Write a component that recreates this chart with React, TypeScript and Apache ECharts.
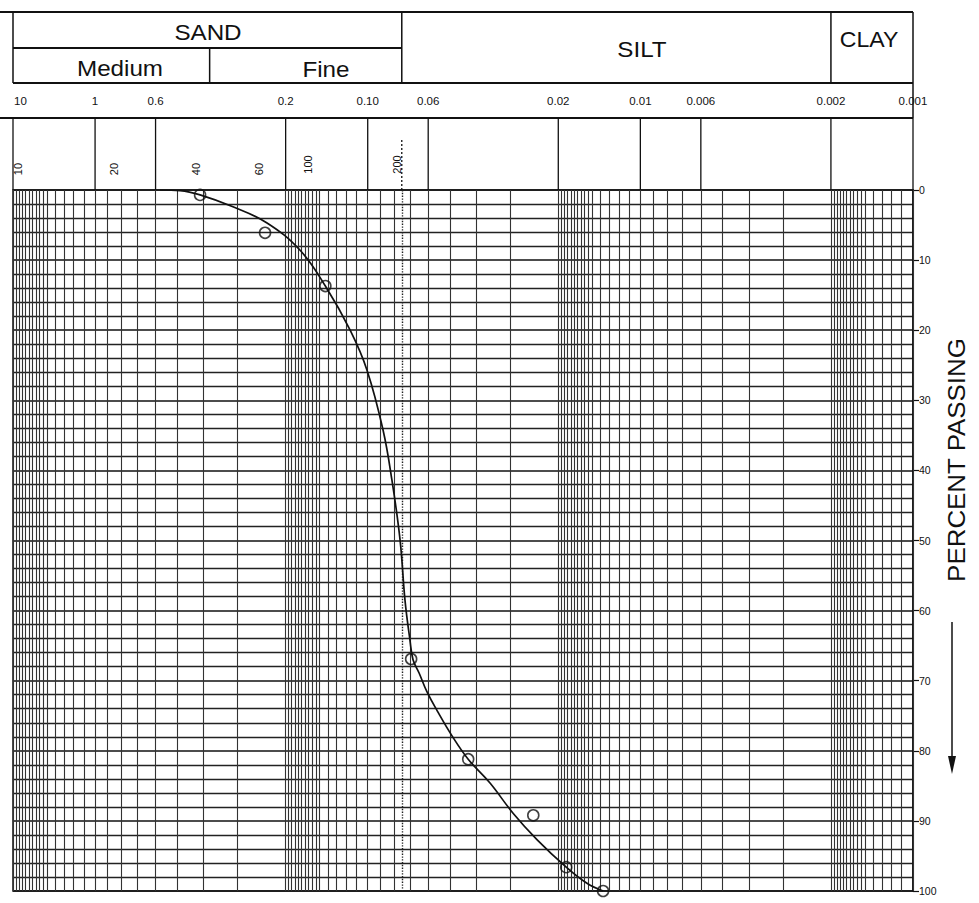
import React, { useEffect, useRef } from "react";
import * as echarts from "echarts";

// Measured points: grain diameter (mm) and percent
const SAMPLE_DIAMETER = [0.412, 0.238, 0.143, 0.0693, 0.0428, 0.0247, 0.0187, 0.0137];
const SAMPLE_PERCENT = [0.7, 6.1, 13.7, 66.9, 81.2, 89.2, 96.6, 100];

// Hand-drawn gradation curve
const CURVE_DIAMETER = [0.578, 0.488, 0.412, 0.312, 0.234, 0.177, 0.143, 0.116, 0.1006, 0.0879, 0.0815, 0.0761, 0.073, 0.07, 0.0682, 0.0648, 0.0606, 0.0556, 0.0492, 0.0428, 0.0356, 0.0293, 0.0239, 0.0187, 0.0157, 0.0137];
const CURVE_PERCENT = [0, 0.1, 0.7, 2.4, 4.7, 8.6, 13.7, 20.0, 25.7, 34.2, 41.4, 49.9, 58.5, 64.2, 67.0, 68.9, 71.6, 74.3, 77.8, 81.2, 84.6, 88.9, 92.7, 96.6, 98.9, 100];

// Grain-size scale labels (text, and where they sit on the diameter axis)
const DIAMETER_LABELS = ["10", "1", "0.6", "0.2", "0.10", "0.06", "0.02", "0.01", "0.006", "0.002", "0.001"];
const DIAMETER_AT = [2, 1, 0.6, 0.2, 0.1, 0.06, 0.02, 0.01, 0.006, 0.002, 0.001];

// Sieve numbers
const SIEVE_LABELS = ["10", "20", "40", "60", "100", "200"];
const SIEVE_AT = [2.0, 0.85, 0.425, 0.25, 0.165, 0.075];
const SIEVE_200 = 0.075;

// Soil class boundaries on the diameter axis
const CLASS_BOUNDS = [2, 0.38, 0.075, 0.002, 0.001];

// Log-paper ruling inside one cycle (multiples of the cycle unit)
const CYCLE_UNITS = [1, 0.1, 0.01, 0.001];
const CYCLE_RULING = [2, 1.95, 1.9, 1.85, 1.8, 1.75, 1.7, 1.65, 1.6, 1.55, 1.5, 1.4, 1.3, 1.2, 1.1, 1.0, 0.9, 0.8, 0.7, 0.6, 0.5, 0.4, 0.3];

const FONT = '"Liberation Sans", Arial, Helvetica, sans-serif';

export default function App() {
  const ref = useRef<HTMLDivElement>(null);

  useEffect(() => {
    document.body.style.margin = "0";
    const chart = echarts.init(ref.current!, null, { renderer: "svg" });

    const ruling: number[] = [];
    CYCLE_UNITS.forEach((u) => {
      CYCLE_RULING.forEach((m) => {
        const v = +(m * u).toPrecision(6);
        if (v >= 0.001 && v <= 2) ruling.push(v);
      });
    });

    const option: any = {
      animation: false,
      backgroundColor: "#fff",
      grid: {
        left: 13,
        right: 66,
        top: 190,
        bottom: 12,
        show: true,
        borderColor: "#111",
        borderWidth: 1.5,
        backgroundColor: "transparent",
      },
      xAxis: {
        type: "log",
        logBase: 10,
        min: 0.001,
        max: 2,
        inverse: true,
        axisLabel: { show: false },
        axisTick: { show: false },
        axisLine: { show: false },
        splitLine: { show: false },
      },
      yAxis: {
        type: "value",
        position: "right",
        inverse: true,
        min: 0,
        max: 100,
        interval: 10,
        axisLine: { show: true, lineStyle: { color: "#111", width: 1.5 } },
        axisTick: { show: true, length: 6, lineStyle: { color: "#111", width: 1.2 } },
        axisLabel: { show: true, color: "#111", fontSize: 10.5, margin: 6, fontFamily: FONT },
        splitLine: { show: true, lineStyle: { color: "#111", width: 1.7 } },
        minorTick: { show: false, splitNumber: 5 },
        minorSplitLine: { show: true, lineStyle: { color: "#222", width: 1.3 } },
      },
      series: [
        {
          type: "line",
          data: [],
          z: 1,
          silent: true,
          showSymbol: false,
          markLine: {
            silent: true,
            precision: 8,
            symbol: ["none", "none"],
            label: { show: false },
            lineStyle: { color: "#333", width: 1.1, type: "solid" },
            emphasis: { disabled: true },
            data: ruling.map((v) => ({ xAxis: v })),
          },
        },
        {
          type: "line",
          data: [],
          z: 2,
          silent: true,
          showSymbol: false,
          markLine: {
            silent: true,
            precision: 8,
            symbol: ["none", "none"],
            label: { show: false },
            lineStyle: { color: "#222", width: 1.4, type: "dotted" },
            emphasis: { disabled: true },
            data: [{ xAxis: SIEVE_200 }],
          },
        },
        {
          type: "line",
          z: 5,
          smooth: 0.4,
          showSymbol: false,
          lineStyle: { color: "#111", width: 1.7 },
          data: CURVE_DIAMETER.map((d, i) => [d, CURVE_PERCENT[i]]),
        },
        {
          type: "scatter",
          z: 6,
          symbol: "circle",
          symbolSize: 11,
          itemStyle: { color: "rgba(255,255,255,0)", borderColor: "#111", borderWidth: 1.6 },
          data: SAMPLE_DIAMETER.map((d, i) => [d, SAMPLE_PERCENT[i]]),
        },
      ],
    };

    chart.setOption(option);

    const px = (v: number) => chart.convertToPixel({ xAxisIndex: 0 }, v) as number;
    const els: any[] = [];
    const line = (x1: number, y1: number, x2: number, y2: number, w = 1.5, dash?: string) =>
      els.push({
        type: "line",
        silent: true,
        shape: { x1, y1, x2, y2 },
        style: { stroke: "#111", lineWidth: w, lineDash: dash === "dot" ? [2, 2] : null },
      });
    const text = (t: string, x: number, y: number, size: number, extra: any = {}) =>
      els.push({
        type: "text",
        silent: true,
        x,
        y,
        ...extra,
        style: {
          text: t,
          fill: "#111",
          fontSize: size,
          fontFamily: FONT,
          align: extra.align || "center",
          verticalAlign: "middle",
        },
      });

    // header table
    const bx = CLASS_BOUNDS.map(px);
    line(0, 12, bx[4], 12, 2);
    line(bx[0], 48, bx[2], 48, 1.8);
    line(bx[0], 83, bx[4], 83, 2);
    line(bx[0], 12, bx[0], 83, 1.5);
    line(bx[1], 48, bx[1], 83, 1.5);
    line(bx[2], 12, bx[2], 83, 1.5);
    line(bx[3], 12, bx[3], 83, 1.5);
    line(bx[4], 12, bx[4], 118, 1.5);

    text("SAND", 208, 32, 22, { scaleX: 1.1 });
    text("Medium", 120, 68, 22, { scaleX: 1.1 });
    text("Fine", 326, 69, 22, { scaleX: 1.1 });
    text("SILT", 642, 49, 22, { scaleX: 1.1 });
    text("CLAY", 869, 40, 22, { scaleX: 1.05 });

    // diameter labels row
    DIAMETER_LABELS.forEach((t, i) => {
      const x = px(DIAMETER_AT[i]);
      if (i === 0) text(t, x + 1, 101, 11.5, { align: "left" });
      else text(t, x, 101, 11.5);
    });
    line(0, 118, bx[4], 118, 2);
    DIAMETER_AT.forEach((d) => {
      const x = px(d);
      line(x, 118, x, 190, 1.3);
    });
    const x200 = px(SIEVE_200);
    line(x200, 140, x200, 190, 1.3, "dot");

    // sieve numbers (rotated)
    SIEVE_LABELS.forEach((t, i) => {
      let x = px(SIEVE_AT[i]);
      if (i === 0) x += 5;
      if (i === SIEVE_LABELS.length - 1) x -= 5;
      text(t, x, 178 - t.length * 4.5, 11, { rotation: Math.PI / 2 });
    });

    // side title and arrow
    text("PERCENT PASSING", 956, 460, 24, { rotation: Math.PI / 2, scaleX: 1.08 });
    line(952, 622, 952, 762, 1.5);
    els.push({
      type: "polygon",
      silent: true,
      shape: { points: [[948, 756], [956, 756], [952, 774]] },
      style: { fill: "#111" },
    });

    chart.setOption({ graphic: { elements: els } });

    return () => chart.dispose();
  }, []);

  return <div ref={ref} style={{ width: 979, height: 903 }} />;
}
